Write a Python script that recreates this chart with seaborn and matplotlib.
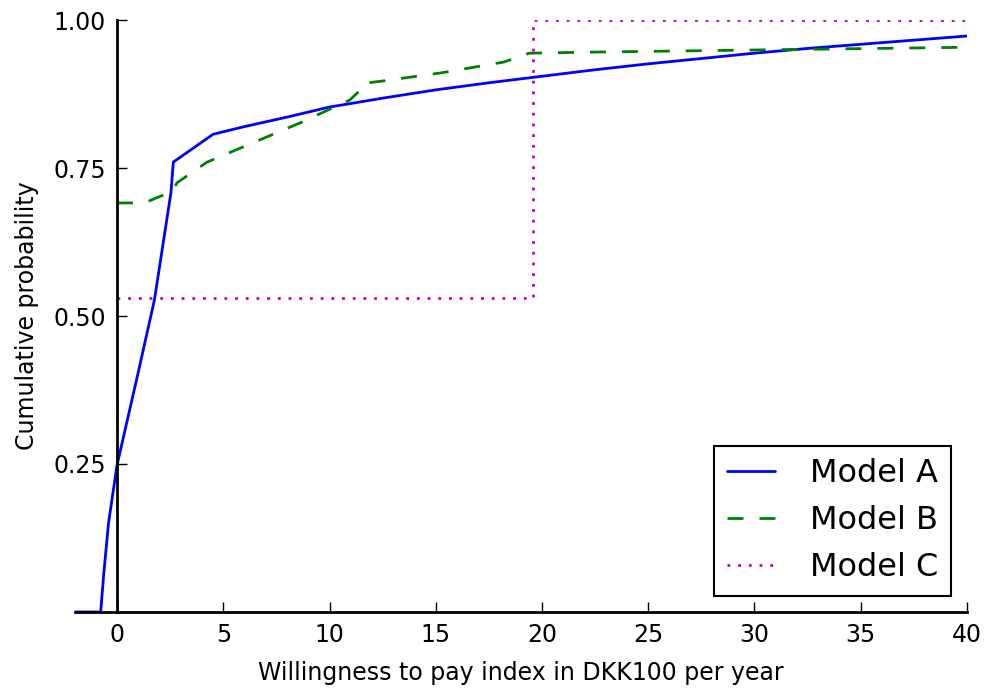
import matplotlib
matplotlib.use("Agg")
import matplotlib.pyplot as plt
import seaborn as sns

# Data
model_a_x = [-2, -0.77, -0.62, -0.4, 0, 1.0, 1.76, 2.54, 2.65,
             4.52, 6, 8, 10, 12.5, 15, 17.5, 20, 22.5, 25, 27.5, 30,
             32.5, 35, 37.5, 40]
model_a_y = [0, 0, 0.066, 0.15, 0.248, 0.405, 0.527, 0.709, 0.76,
             0.807, 0.820, 0.836, 0.853, 0.868, 0.882, 0.894, 0.905, 0.916,
             0.926, 0.935, 0.944, 0.952, 0.959, 0.966, 0.973]

model_b_x = [0, 1.3, 1.88, 2.6, 2.82, 4.24, 8.6, 10.96, 11.4, 11.6, 12.5,
             15.3, 18.2, 19.4, 22.7, 40]
model_b_y = [0.691, 0.691, 0.70, 0.71, 0.725, 0.76, 0.826, 0.865, 0.88, 0.893,
             0.897, 0.911, 0.929, 0.944, 0.946, 0.954]

model_c_x = [0, 19.6, 19.6, 40]
model_c_y = [0.53, 0.53, 1.0, 1.0]

x_ticks = [0, 5, 10, 15, 20, 25, 30, 35, 40]
y_ticks = [0.25, 0.50, 0.75, 1.00]
y_tick_labels = ["0.25", "0.50", "0.75", "1.00"]

sns.set_style("ticks")
plt.rcParams['font.family'] = ['DejaVu Sans']
plt.rcParams['text.color'] = 'black'
plt.rcParams['axes.labelcolor'] = 'black'

fig = plt.figure(figsize=(9.87, 6.93), dpi=100)
ax = fig.add_axes([0.0755, 0.1169, 0.9042, 0.8542])

sns.lineplot(x=model_a_x, y=model_a_y, estimator=None, sort=False, ax=ax,
             color=(0, 0, 1), lw=2, label="Model A")
sns.lineplot(x=model_b_x, y=model_b_y, estimator=None, sort=False, ax=ax,
             color=(0, 0.5, 0), lw=2, label="Model B")
sns.lineplot(x=model_c_x, y=model_c_y, estimator=None, sort=False, ax=ax,
             color=(0.75, 0, 0.75), lw=2, label="Model C")
ax.lines[1].set_linestyle((0, (5.75, 5.75)))
ax.lines[2].set_linestyle((0, (1, 2.85)))

ax.set_xlim(-2, 40)
ax.set_ylim(0, 1)
ax.set_xticks(x_ticks)
ax.set_yticks(y_ticks)
ax.set_yticklabels(y_tick_labels)

ax.spines['left'].set_position(('data', 0))
ax.spines['top'].set_visible(False)
ax.spines['right'].set_visible(False)
for s in ['left', 'bottom']:
    ax.spines[s].set_linewidth(2)
    ax.spines[s].set_color('black')

ax.tick_params(direction='in', length=7, width=1, colors='black',
               labelsize=17, pad=8)

ax.set_xlabel("Willingness to pay index in DKK100 per year", fontsize=17,
              labelpad=10, color='black')
ax.set_ylabel("Cumulative probability", fontsize=17, color='black')
ax.yaxis.set_label_coords(-0.04, 0.5)

leg = ax.legend(loc='lower right', fontsize=23, fancybox=False, frameon=True,
                handlelength=1.5, handletextpad=1.1, borderaxespad=0.5)
leg.get_frame().set_edgecolor('black')
leg.get_frame().set_linewidth(1.5)
leg.get_frame().set_alpha(1)
for t in leg.get_texts():
    t.set_color('black')

fig.savefig("out.png", dpi=100)
